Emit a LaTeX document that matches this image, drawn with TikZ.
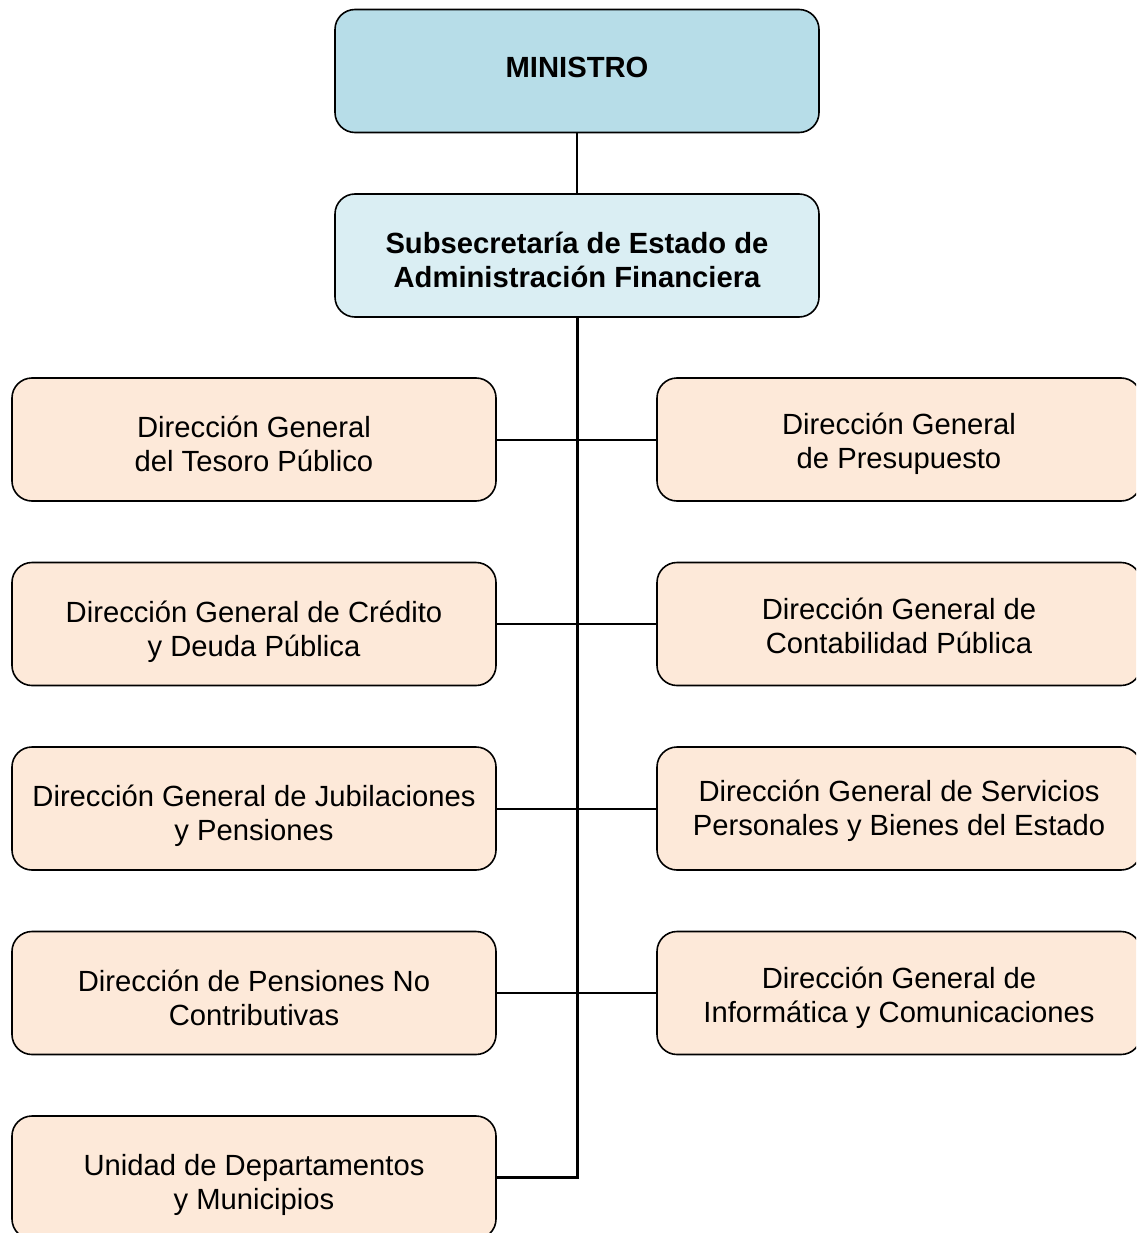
\documentclass[tikz,border=0pt]{standalone}
\usepackage{fontspec}
\setmainfont{Liberation Sans}
\definecolor{minfill}{HTML}{B7DDE8}
\definecolor{subfill}{HTML}{DAEEF3}
\definecolor{dirfill}{HTML}{FDE9D9}
\newcommand\mystrutL{\rule{0pt}{38pt}}
\newcommand\mystrutR{\rule{0pt}{32pt}}
\newcommand\mystrutB{\rule[-8pt]{0pt}{0pt}}
\begin{document}
\begin{tikzpicture}[x=1pt,y=-1pt,
  box/.style={draw=black, line width=1.6pt, rounded corners=20pt, minimum width=484pt, minimum height=123pt, align=center, inner sep=0pt,
    font=\fontsize{29.2pt}{34pt}\selectfont},
  topbox/.style={box, fill=minfill, font=\fontsize{29.2pt}{34pt}\selectfont\bfseries},
  subbox/.style={box, fill=subfill, font=\fontsize{29.2pt}{34pt}\selectfont\bfseries},
  dirbox/.style={box, fill=dirfill},
  conn/.style={draw=black, line width=2pt},
  trunk/.style={draw=black, line width=3pt}]
\useasboundingbox (0,0) rectangle (1136,1233);
\clip (0,0) rectangle (1136,1233);

\node[topbox] (min) at (577,71) {\rule[-8pt]{0pt}{26pt}MINISTRO};
\node[subbox] (sub) at (577,255.5) {\mystrutL Subsecretaría de Estado de\\Administración Financiera\mystrutB};

\node[dirbox] (l1) at (254,439.5) {\mystrutL Dirección General\\del Tesoro Público\mystrutB};
\node[dirbox] (l2) at (254,624) {\mystrutL Dirección General de Crédito\\y Deuda Pública\mystrutB};
\node[dirbox] (l3) at (254,808.5) {\mystrutL Dirección General de Jubilaciones\\y Pensiones\mystrutB};
\node[dirbox] (l4) at (254,993) {\mystrutL Dirección de Pensiones No\\Contributivas\mystrutB};
\node[dirbox] (l5) at (254,1177.5) {\mystrutL Unidad de Departamentos\\y Municipios\mystrutB};

\node[dirbox] (r1) at (899,439.5) {\mystrutR Dirección General\\de Presupuesto\mystrutB};
\node[dirbox] (r2) at (899,624) {\mystrutR Dirección General de\\Contabilidad Pública\mystrutB};
\node[dirbox] (r3) at (899,808.5) {\rule{0pt}{27pt}Dirección General de Servicios\\Personales y Bienes del Estado\mystrutB};
\node[dirbox] (r4) at (899,993) {\mystrutR Dirección General de\\Informática y Comunicaciones\mystrutB};

\coordinate (tb) at (577,1177.5);

\draw[conn] (min.south) -- (sub.north);
\draw[conn] (l1.east) -- (r1.west);
\draw[conn] (l2.east) -- (r2.west);
\draw[conn] (l3.east) -- (r3.west);
\draw[conn] (l4.east) -- (r4.west);
\draw[trunk] (sub.south) -- (tb) -- (l5.east);
\end{tikzpicture}
\end{document}
